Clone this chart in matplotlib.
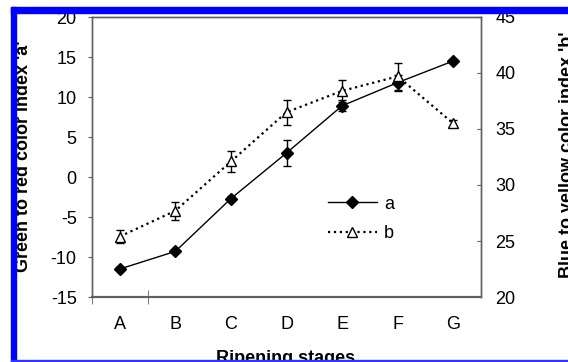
import matplotlib
matplotlib.use('Agg')
import matplotlib.pyplot as plt
from matplotlib.patches import Rectangle

plt.rcParams['font.family'] = ['Liberation Sans', 'DejaVu Sans']
plt.rcParams['axes.unicode_minus'] = False

stages = ['A', 'B', 'C', 'D', 'E', 'F', 'G']
a_values = [-11.5, -9.3, -2.7, 3.0, 8.9, 11.8, 14.5]
a_errors = [0.2, 0.2, 0.3, 1.6, 0.7, 1.0, 0.2]
b_values = [25.4, 27.7, 32.1, 36.5, 38.4, 39.7, 35.5]
b_errors = [0.6, 0.8, 0.9, 1.1, 1.0, 1.2, 0.3]

W, H = 568, 362
fig = plt.figure(figsize=(W / 100, H / 100), dpi=100)
ax = fig.add_axes([92 / W, 1 - 297 / H, (481 - 92) / W, (297 - 17) / H])
ax2 = ax.twinx()

x = list(range(len(stages)))
spine_color = '#606060'
tick_size = 13
label_size = 13

# series a on the left axis
ax.errorbar(x, a_values, yerr=a_errors, fmt='none', ecolor='black',
            elinewidth=1, capsize=3.2, capthick=1)
line_a, = ax.plot(x, a_values, color='black', lw=1, marker='D', ms=6,
                  mfc='black', mec='black', label='a')

# series b on the right axis
ax2.errorbar(x, b_values, yerr=b_errors, fmt='none', ecolor='black',
             elinewidth=1, capsize=3.2, capthick=1)
line_b, = ax2.plot(x, b_values, color='black', lw=1.6, ls=':', marker='^',
                   ms=7, mfc='white', mec='black', mew=1, label='b')

ax.set_xlim(-0.5, 6.5)
ax.set_ylim(-15, 20)
ax2.set_ylim(20, 45)
ax.set_yticks(range(-15, 21, 5))
ax2.set_yticks(range(20, 46, 5))

ax.set_xticks(x)
ax.set_xticklabels(stages)
ax.tick_params(axis='x', which='major', length=0, pad=14, labelsize=tick_size)
ax.set_xticks([-0.5, 0.5], minor=True)
ax.tick_params(axis='x', which='minor', direction='inout', length=10,
               color=spine_color)
ax.tick_params(axis='y', direction='out', length=3, pad=8, labelsize=tick_size,
               color=spine_color)
ax2.tick_params(axis='y', direction='in', length=3, pad=10.5, labelsize=tick_size,
                color=spine_color)

for a in (ax, ax2):
    for s in a.spines.values():
        s.set_color(spine_color)
        s.set_linewidth(1)
ax.spines['bottom'].set_linewidth(1.5)
ax2.spines['bottom'].set_linewidth(1.5)

ax2.legend([line_a, line_b], ['a', 'b'], frameon=False, fontsize=tick_size,
           loc='upper left', bbox_to_anchor=(0.565, 0.42),
           handlelength=2.7, handletextpad=0.4, labelspacing=0.7)

fig.text(24 / W, 1 - 156 / H, "Green to red color index 'a'", rotation=90,
         ha='center', va='center', fontsize=label_size, fontweight='bold')
fig.text(568 / W, 1 - 155 / H, "Blue to yellow color index 'b'", rotation=90,
         ha='center', va='center', fontsize=label_size, fontweight='bold')
fig.text(286 / W, 1 - 350 / H, 'Ripening stages', ha='center', va='top',
         fontsize=label_size, fontweight='bold')

# blue frame of the screenshot
blue = '#0000ff'
fig.add_artist(Rectangle((11 / W, 1 - 13 / H), 1, 6 / H, transform=fig.transFigure,
                         color=blue, zorder=10))
fig.add_artist(Rectangle((11 / W, 0), 5 / W, 1 - 7 / H, transform=fig.transFigure,
                         color=blue, zorder=10))
fig.add_artist(Rectangle((11 / W, 0), 1, 2.5 / H, transform=fig.transFigure,
                         color='#3333ff', zorder=10))

fig.savefig('out.png', dpi=100)
